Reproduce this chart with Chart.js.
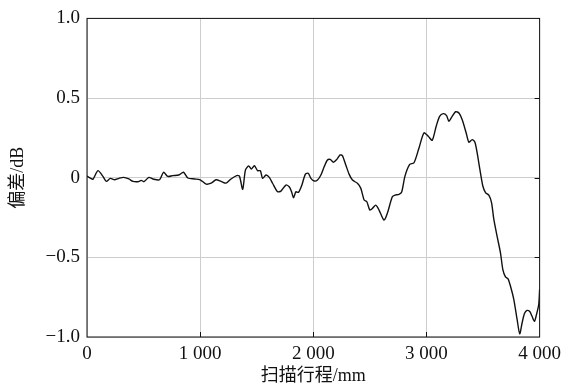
<!DOCTYPE html>
<html>
<head>
<meta charset="utf-8">
<script src="https://cdn.jsdelivr.net/npm/chart.js@4"></script>
<style>
  html, body { margin: 0; padding: 0; background: #fff; }
  #wrap { width: 567px; height: 385px; }
</style>
</head>
<body>
<div id="wrap"><canvas id="c" width="567" height="385"></canvas></div>
<script>
// scan position (mm) and deviation (dB)
const positions = [
  0, 39, 53, 97, 141, 171, 206, 244, 282, 324, 370, 406, 450, 480, 503, 547,
  582, 641, 676, 714, 758, 811, 853, 891, 950, 1000, 1053, 1097, 1141, 1185,
  1229, 1273, 1323, 1347, 1376, 1400, 1429, 1452, 1479, 1508, 1532, 1552, 1582,
  1611, 1640, 1684, 1714, 1758, 1787, 1808, 1825, 1846, 1869, 1899, 1929, 1955,
  1979, 2008, 2037, 2067, 2096, 2125, 2149, 2178, 2208, 2237, 2257, 2287, 2317,
  2346, 2390, 2420, 2449, 2473, 2499, 2522, 2552, 2581, 2625, 2654, 2698, 2722,
  2757, 2781, 2810, 2852, 2890, 2934, 2978, 3016, 3051, 3086, 3116, 3148, 3178,
  3198, 3227, 3257, 3287, 3316, 3351, 3375, 3404, 3428, 3448, 3472, 3498, 3522,
  3551, 3575, 3595, 3624, 3654, 3675, 3698, 3721, 3742, 3772, 3801, 3824, 3845,
  3866, 3889, 3913, 3933, 3954, 3972, 3992, 4000
];
const deviation = [
  0.01, -0.006, -0.01, 0.044, 0.008, -0.023, -0.004, -0.013, -0.004, 0.002, -0.008, -0.023, -0.025, -0.017, -0.025, 0.002,
  -0.008, -0.013, 0.034, 0.008, 0.013, 0.017, 0.034, -0.002, -0.008, -0.013, -0.04, -0.034, -0.013, -0.023,
  -0.034, -0.008, 0.013, 0.01, -0.073, 0.048, 0.074, 0.055, 0.075, 0.044, 0.044, -0.004, 0.017,
  0.002, -0.035, -0.088, -0.084, -0.046, -0.057, -0.088, -0.126, -0.088, -0.092, -0.046, 0.021, 0.028,
  -0.004, -0.021, -0.015, 0.017, 0.069, 0.111, 0.115, 0.097, 0.115, 0.143, 0.139, 0.08, 0.021,
  -0.015, -0.035, -0.067, -0.14, -0.151, -0.203, -0.193, -0.172, -0.203, -0.266, -0.224, -0.12, -0.109,
  -0.105, -0.09, 0.01, 0.083, 0.094, 0.187, 0.281, 0.26, 0.235, 0.323, 0.385, 0.402, 0.39,
  0.354, 0.385, 0.414, 0.406, 0.364, 0.281, 0.223, 0.239, 0.223, 0.156, 0.052, -0.052, -0.094,
  -0.11, -0.156, -0.26, -0.367, -0.472, -0.577, -0.623, -0.635, -0.68, -0.765, -0.89, -0.98, -0.912,
  -0.853, -0.833, -0.84, -0.87, -0.902, -0.86, -0.797, -0.70
];
const xTicks = [0, 1000, 2000, 3000, 4000];
const yTicks = [-1, -0.5, 0, 0.5, 1];

const serif = "'Liberation Serif', 'Noto Sans CJK SC', serif";

function fmtX(v) {
  if (v === 0) return '0';
  return String(v).replace(/(\d)(\d{3})$/, '$1 $2');
}
function fmtY(v) {
  if (v === 0) return '0';
  return v.toFixed(1).replace('-', '\u2212');
}

// black frame + short inward ticks on the right and bottom
const framePlugin = {
  id: 'frame',
  afterDraw(chart) {
    const { ctx, chartArea: a, scales } = chart;
    ctx.save();
    ctx.strokeStyle = '#111';
    ctx.lineWidth = 1;
    ctx.strokeRect(a.left, a.top, a.right - a.left, a.bottom - a.top);
    ctx.beginPath();
    yTicks.slice(1, -1).forEach(v => {
      const y = Math.round(scales.y.getPixelForValue(v)) + 0.5;
      ctx.moveTo(a.right - 5, y);
      ctx.lineTo(a.right, y);
    });
    xTicks.slice(1, -1).forEach(v => {
      const x = Math.round(scales.x.getPixelForValue(v)) + 0.5;
      ctx.moveTo(x, a.bottom - 5);
      ctx.lineTo(x, a.bottom);
    });
    ctx.stroke();
    ctx.restore();
  }
};

new Chart(document.getElementById('c'), {
  type: 'line',
  data: {
    datasets: [{
      data: positions.map((x, i) => ({ x: x, y: deviation[i] })),
      borderColor: '#111',
      borderWidth: 1.4,
      pointRadius: 0,
      tension: 0.25,
      fill: false
    }]
  },
  options: {
    responsive: false,
    animation: false,
    layout: { padding: { top: 18, right: 26, bottom: 0, left: 0 } },
    plugins: { legend: { display: false }, tooltip: { enabled: false } },
    scales: {
      x: {
        type: 'linear',
        min: 0,
        max: 4000,
        afterFit(s) { s.height = 48; },
        afterBuildTicks(s) { s.ticks = xTicks.map(v => ({ value: v })); },
        grid: { color: '#cdcdcd', lineWidth: 1, drawTicks: false },
        border: { display: false },
        ticks: {
          padding: 6,
          maxRotation: 0,
          color: '#111',
          font: { family: serif, size: 19 },
          callback: v => fmtX(v)
        },
        title: {
          display: true,
          text: '扫描行程/mm',
          color: '#111',
          padding: 0,
          font: { family: serif, size: 18, lineHeight: 1 }
        }
      },
      y: {
        min: -1,
        max: 1,
        afterFit(s) { s.width = 87; },
        afterBuildTicks(s) { s.ticks = yTicks.map(v => ({ value: v })); },
        grid: { color: '#cdcdcd', lineWidth: 1, drawTicks: false },
        border: { display: false },
        ticks: {
          padding: 7,
          color: '#111',
          font: { family: serif, size: 19 },
          callback: v => fmtY(v)
        },
        title: {
          display: true,
          text: '偏差/dB',
          color: '#111',
          padding: { top: 9, bottom: 0 },
          font: { family: serif, size: 18, lineHeight: 1 }
        }
      }
    }
  },
  plugins: [framePlugin]
});
</script>
</body>
</html>
